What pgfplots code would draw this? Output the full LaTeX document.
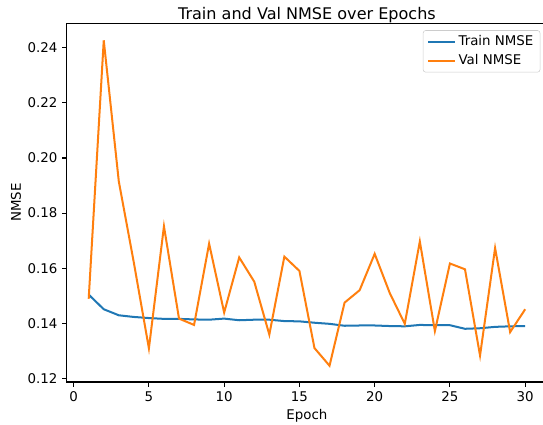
\documentclass[border=0pt]{standalone}
\usepackage{fontspec}
\setmainfont{DejaVu Sans}
\usepackage{pgfplots}
\pgfplotsset{compat=1.18}
\definecolor{c0}{HTML}{1F77B4}
\definecolor{c1}{HTML}{FF7F0E}
\begin{document}
\begin{tikzpicture}
\begin{axis}[
  name=ax,
  scale only axis,
  width=359pt, height=268pt,
  xmin=-0.45, xmax=31.45,
  ymin=0.1187, ymax=0.2488,
  xtick={0,5,10,15,20,25,30},
  ytick={0.12,0.14,0.16,0.18,0.20,0.22,0.24},
  yticklabel style={/pgf/number format/.cd,fixed,fixed zerofill,precision=2},
  /pgf/number format/assume math mode=true,
  tick pos=left,
  tick align=outside,
  major tick length=3.5pt,
  every tick/.style={black, line width=0.8pt},
  axis line style={line width=0.8pt},
  ticklabel style={font=\fontsize{10}{12}\selectfont},
  title={Train and Val NMSE over Epochs},
  title style={font=\fontsize{12}{14}\selectfont, yshift=-9pt},
  xlabel={Epoch},
  ylabel={NMSE},
  label style={font=\fontsize{10}{12}\selectfont},
  xlabel style={yshift=1pt},
  ylabel style={yshift=-2pt},
  legend style={at={(1,1)}, anchor=north east, xshift=-5pt, yshift=-5pt,
    draw=black!20, rounded corners=2pt, font=\fontsize{10}{12}\selectfont,
    inner xsep=3pt, inner ysep=2pt, row sep=1pt},
  legend cell align=left,
  legend image code/.code={\draw[#1] (0pt,0pt) -- (20pt,0pt);},
]
\addplot[color=c0, line width=1.5pt] coordinates {
(1,0.1504) (2,0.1451) (3,0.1429) (4,0.1423) (5,0.1419) (6,0.1416) (7,0.1416) (8,0.1414) (9,0.1413) (10,0.1417)
(11,0.1411) (12,0.1413) (13,0.1413) (14,0.1408) (15,0.1407) (16,0.1402) (17,0.1398) (18,0.1391) (19,0.1392) (20,0.1392)
(21,0.1390) (22,0.1389) (23,0.1394) (24,0.1393) (25,0.1393) (26,0.1380) (27,0.1382) (28,0.1387) (29,0.1389) (30,0.1390)
};
\addlegendentry{Train NMSE}
\addplot[color=c1, line width=1.5pt] coordinates {
(1,0.1489) (2,0.2427) (3,0.1915) (4,0.1620) (5,0.1309) (6,0.1752) (7,0.1417) (8,0.1394) (9,0.1689) (10,0.1439)
(11,0.1639) (12,0.1551) (13,0.1359) (14,0.1642) (15,0.1590) (16,0.1310) (17,0.1246) (18,0.1475) (19,0.1520) (20,0.1652)
(21,0.1510) (22,0.1398) (23,0.1697) (24,0.1372) (25,0.1617) (26,0.1596) (27,0.1283) (28,0.1673) (29,0.1368) (30,0.1451)
};
\addlegendentry{Val NMSE}
\end{axis}
\pgfresetboundingbox
\path ([shift={(-50pt,-31.6pt)}]ax.south west) rectangle ([shift={(-3pt,17.6pt)}]ax.north east);
\end{tikzpicture}
\end{document}
